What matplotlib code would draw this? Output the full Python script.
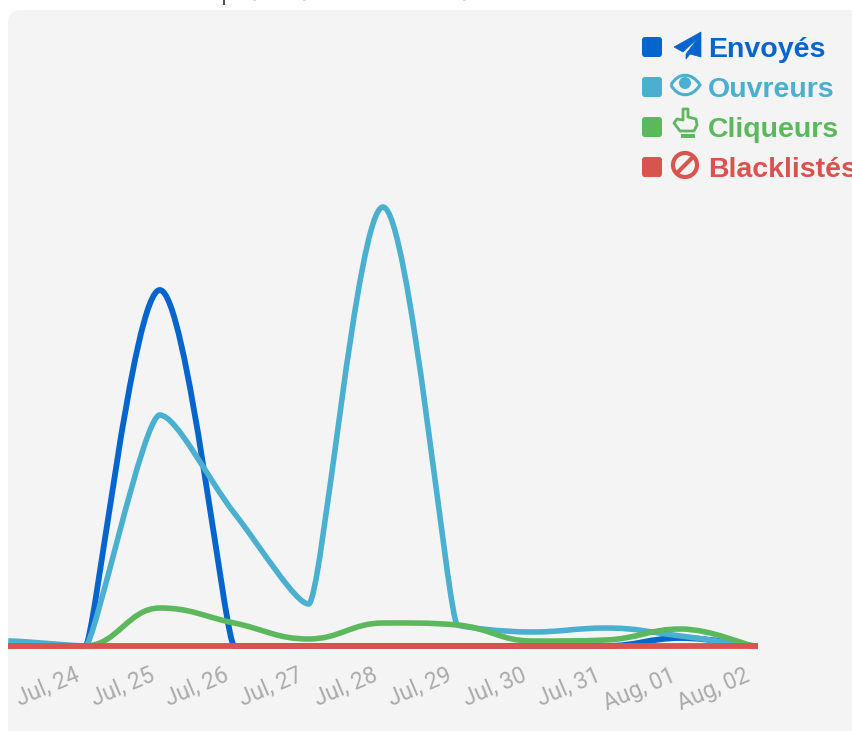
import numpy as np
import matplotlib
matplotlib.use('Agg')
import matplotlib.pyplot as plt
from matplotlib.patches import PathPatch, FancyBboxPatch, Polygon, Circle, Rectangle
from matplotlib.path import Path
from matplotlib.transforms import Affine2D

W, H = 852, 731

days = ['', 'Jul, 24', 'Jul, 25', 'Jul, 26', 'Jul, 27', 'Jul, 28', 'Jul, 29',
        'Jul, 30', 'Jul, 31', 'Aug, 01', 'Aug, 02']
envoyes = [0, 0, 356, 0, 0, 0, 0, 0, 0, 8, 0]
ouvreurs = [5, 0, 231, 133, 42, 439, 21, 14, 18, 10, 0]
cliqueurs = [0, 0, 38, 23, 7, 23, 21, 5, 6, 17, 0]
blacklistes = [0, 0, 0, 0, 0, 0, 0, 0, 0, 0, 0]

names = ['Envoyés', 'Ouvreurs', 'Cliqueurs', 'Blacklistés']
colors = ['#0565cc', '#4bafcf', '#5cb85c', '#d9534f']


def spline_path(y):
    # flat tangent at turning points, centred slope elsewhere
    y = np.asarray(y, dtype=float)
    n = len(y)
    slope = np.zeros(n)
    handle = np.full(n, 0.12)
    for i in range(1, n - 1):
        a, b = y[i] - y[i - 1], y[i + 1] - y[i]
        if a * b > 0:
            slope[i] = np.sign(a) * min((a + b) / 2 * np.sign(a), 3 * min(abs(a), abs(b)))
        big = max(abs(a), abs(b))
        # gentle stretches stay round, a steep side next to a flat one bends tight
        handle[i] = 0.42 if big < 60 else 0.12 + 0.24 * min(abs(a), abs(b)) / big
    verts = [(0, y[0])]
    codes = [Path.MOVETO]
    for i in range(n - 1):
        verts += [(i + handle[i], y[i] + slope[i] * handle[i]),
                  (i + 1 - handle[i + 1], y[i + 1] - slope[i + 1] * handle[i + 1]),
                  (i + 1, y[i + 1])]
        codes += [Path.CURVE4] * 3
    return Path(verts, codes)


fig = plt.figure(figsize=(W / 100, H / 100), dpi=100, facecolor='white')

# y-down pixel coordinates for the panel and the legend
px = Affine2D().scale(1, -1).translate(0, H)

fig.add_artist(FancyBboxPatch((14, 16), W, H, boxstyle='round,pad=0,rounding_size=6', transform=px,
                              fc='#f4f4f4', ec='#f4f4f4', lw=12 * 0.72, joinstyle='round',
                              zorder=-1))

# tails of the heading above the panel
for x, w, c in [(223, 2, '#555555'), (253, 3, '#dddddd'), (303, 3, '#dddddd'), (463, 3, '#dddddd')]:
    fig.add_artist(Rectangle((x, 0), w, 5 if c == '#555555' else 1, transform=px, fc=c, ec='none'))

ax = fig.add_axes([11 / W, 1 - 646 / H, (755 - 11) / W, 636 / H])
ax.patch.set_alpha(0)
ax.set_xlim(0, 10)
ax.set_ylim(0, 636)
for s in ax.spines.values():
    s.set_visible(False)
ax.set_yticks([])
ax.set_xticks(range(len(days)))
ax.set_xticklabels(days, rotation=23, ha='right', rotation_mode='anchor',
                   fontfamily='Roboto', fontsize=16.5, color='#ababab')
ax.tick_params(axis='x', length=0, pad=13)
for lab in ax.get_xticklabels():
    lab.set_transform(lab.get_transform() + Affine2D().translate(-11, 0))

for series, c, lw in zip([envoyes, ouvreurs, cliqueurs, blacklistes], colors, [4.2, 4.0, 4.0, 4.2]):
    ax.add_patch(PathPatch(spline_path(series), fill=False, ec=c, lw=lw, clip_on=False,
                           capstyle='projecting', joinstyle='round'))

# legend rows
for i, (name, c) in enumerate(zip(names, colors)):
    yc = 47 + 40 * i
    fig.add_artist(FancyBboxPatch((643, yc - 9), 18, 18, boxstyle='round,pad=0,rounding_size=2',
                                  transform=px, fc=c, ec=c, lw=2 * 0.72))
    fig.text(708, yc, name, transform=px, color=c, family='Liberation Sans', weight='bold',
             fontsize=20.5, va='center_baseline', ha='left')

# paper plane
blue, cyan, green, red = colors
fig.add_artist(Polygon([(701, 32), (674, 47), (683, 52), (698, 38), (686, 54), (686, 59), (690, 54),
                        (701, 57)], closed=True, transform=px, fc=blue, ec=blue, lw=0.5))

# eye
lid = Path([(671, 85), (678, 72), (692, 72), (700, 85), (692, 98), (678, 98), (671, 85)],
           [Path.MOVETO, Path.CURVE4, Path.CURVE4, Path.CURVE4, Path.CURVE4, Path.CURVE4, Path.CURVE4])
fig.add_artist(PathPatch(lid, transform=px, fc='none', ec=cyan, lw=2.2))
fig.add_artist(Circle((685, 83), 6, transform=px, fc=cyan, ec='none'))

# pointing hand
hand = [(683, 109), (683, 120), (677, 119), (674, 123), (680, 131), (694, 131), (697, 125), (696, 119),
        (688, 117), (688, 109)]
fig.add_artist(Polygon(hand, closed=True, transform=px, fc='none', ec=green, lw=2, joinstyle='round'))
fig.add_artist(Polygon([(681, 134), (695, 134), (695, 138), (681, 138)], closed=True, transform=px,
                       fc=green, ec='none'))

# ban sign
fig.add_artist(Circle((685, 165), 12, transform=px, fc='none', ec=red, lw=3))
fig.add_artist(plt.Line2D([677, 693], [173, 157], transform=px, color=red, lw=3))

fig.savefig('out.png', dpi=100)
